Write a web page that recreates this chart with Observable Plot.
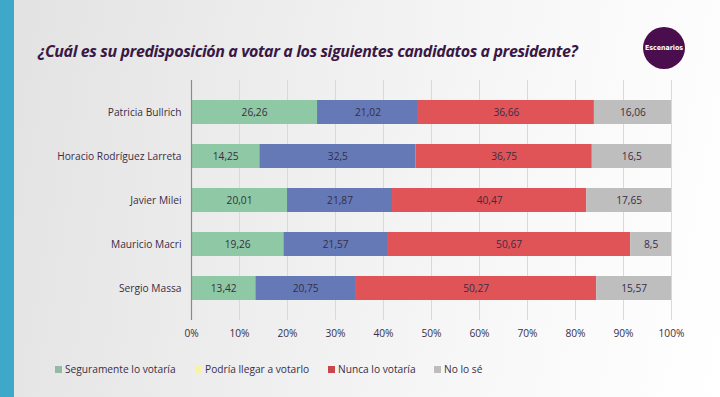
<!DOCTYPE html>
<html><head><meta charset="utf-8">
<script src="https://cdn.jsdelivr.net/npm/d3@7"></script>
<script src="https://cdn.jsdelivr.net/npm/@observablehq/plot@0.6"></script>
<style>
html,body{margin:0;padding:0;}
body{width:720px;height:397px;overflow:hidden;position:relative;font-family:"Open Sans",sans-serif;
background:linear-gradient(100deg,#e2e2e2 0%,#ededed 35%,#f8f8f8 70%,#ffffff 100%);}
#strip{position:absolute;left:0;top:0;width:14px;height:397px;background:#3ea8c8;}
#title{position:absolute;left:38px;top:40px;font-size:16px;font-weight:700;font-style:italic;color:#3a1845;letter-spacing:-0.4px;white-space:nowrap;}
#logo{position:absolute;left:643px;top:27px;width:42px;height:42px;border-radius:50%;background:#4a0e4e;color:#fff;font-size:7px;font-weight:700;display:flex;align-items:center;justify-content:center;font-family:"Liberation Sans Narrow","DejaVu Sans Condensed",sans-serif;}
#chart{position:absolute;left:0;top:78px;}
#legend{position:absolute;left:55px;top:362px;font-size:10.2px;color:#3a2d45;white-space:nowrap;}
#legend span.item{position:absolute;top:0;display:flex;align-items:center;}
#legend span.sw{display:inline-block;width:7px;height:7px;margin-right:3px;}
</style></head>
<body>
<div id="strip"></div>
<div id="title">¿Cuál es su predisposición a votar a los siguientes candidatos a presidente?</div>
<div id="logo">Escenarios</div>
<div id="chart"></div>
<div id="legend"></div>
<script>
const candidates = ["Patricia Bullrich","Horacio Rodríguez Larreta","Javier Milei","Mauricio Macri","Sergio Massa"];
const seriesNames = ["Seguramente lo votaría","Podría llegar a votarlo","Nunca lo votaría","No lo sé"];
const seguramente = [26.26,14.25,20.01,19.26,13.42];
const podria = [21.02,32.5,21.87,21.57,20.75];
const nunca = [36.66,36.75,40.47,50.67,50.27];
const nolose = [16.06,16.5,17.65,8.5,15.57];
const barColors = ["#8ec8a4","#6479b6","#e05458","#bebebe"];
const legendColors = ["#93bba3","#f7f3a6","#c9464c","#bdbdbd"];
const xTicks = [0,0.1,0.2,0.3,0.4,0.5,0.6,0.7,0.8,0.9,1];

const seriesValues = [seguramente,podria,nunca,nolose];
const data = [];
candidates.forEach((c,i)=>seriesNames.forEach((s,j)=>data.push({candidate:c,series:s,value:seriesValues[j][i]/100,raw:seriesValues[j][i]})));

const txtColor = "#3a2d45";
const chart = Plot.plot({
  width:720, height:267,
  marginLeft:191, marginRight:49, marginTop:2, marginBottom:25,
  style:{fontFamily:"Open Sans, sans-serif", fontSize:"10.2px", color:txtColor, background:"transparent"},
  x:{domain:[0,1], ticks:xTicks, tickFormat:d=>Math.round(d*100)+"%", tickSize:0, tickPadding:9, label:null, grid:false},
  y:{domain:candidates, padding:0.45, tickSize:0, tickPadding:10, label:null},
  color:{domain:seriesNames, range:barColors},
  marks:[
    Plot.ruleX(xTicks,{stroke:"#d9d9d9", strokeWidth:1}),
    Plot.barX(data, Plot.stackX({y:"candidate", x:"value", fill:"series", order:seriesNames})),
    Plot.text(data, Plot.stackX({y:"candidate", x:"value", z:"series", order:seriesNames, text:d=>String(d.raw).replace(".",","), fill:txtColor, fontSize:10.2})),
    Plot.ruleX([0],{stroke:"#8a8a8a", strokeWidth:1.2})
  ]
});
document.getElementById("chart").appendChild(chart);

const lx = [0,140,273,379];
const leg = document.getElementById("legend");
seriesNames.forEach((s,i)=>{
  const it=document.createElement("span"); it.className="item"; it.style.left=lx[i]+"px";
  const sw=document.createElement("span"); sw.className="sw"; sw.style.background=legendColors[i];
  it.appendChild(sw); it.appendChild(document.createTextNode(s)); leg.appendChild(it);
});
</script>
</body></html>
